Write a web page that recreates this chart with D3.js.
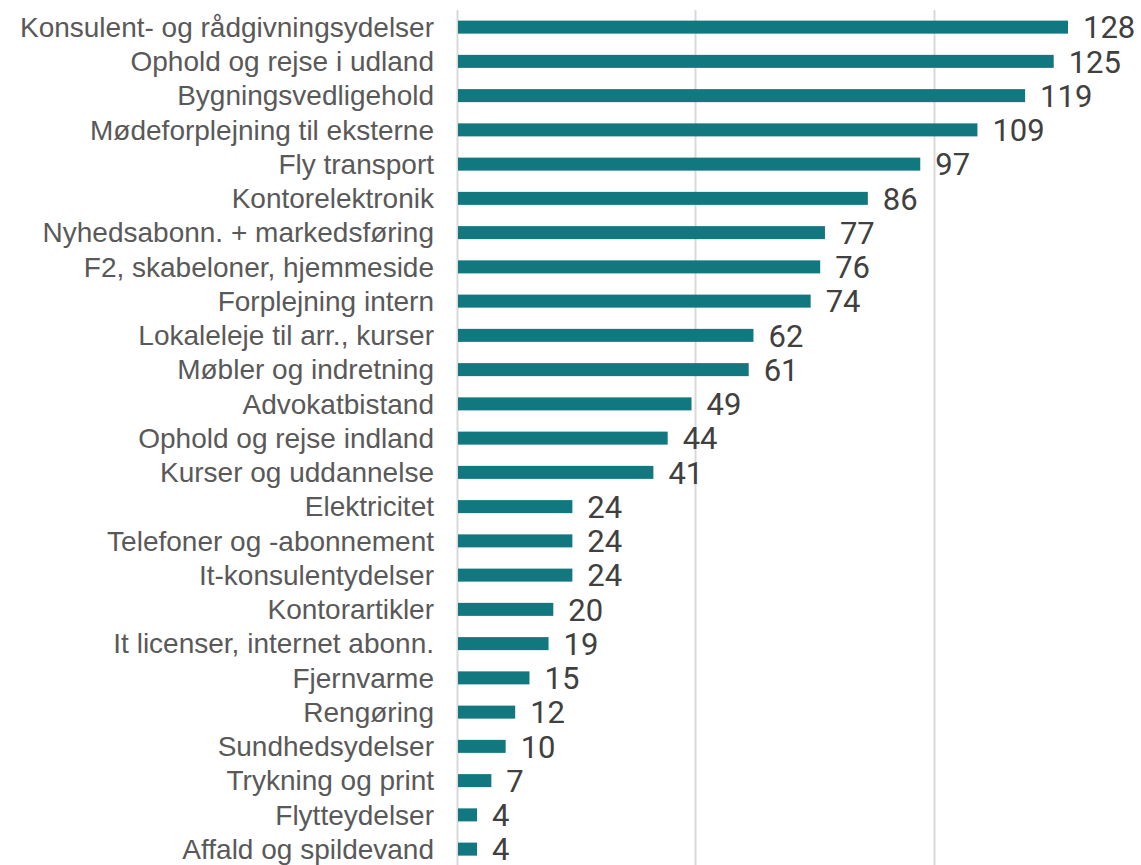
<!DOCTYPE html>
<html><head><meta charset="utf-8">
<script src="https://cdn.jsdelivr.net/npm/d3@7"></script>
<style>html,body{margin:0;padding:0;background:#fff;}</style>
</head><body>
<svg id="c" width="1141" height="865"></svg>
<script>
const categories = ["Konsulent- og rådgivningsydelser","Ophold og rejse i udland","Bygningsvedligehold","Mødeforplejning til eksterne","Fly transport","Kontorelektronik","Nyhedsabonn. + markedsføring","F2, skabeloner, hjemmeside","Forplejning intern","Lokaleleje til arr., kurser","Møbler og indretning","Advokatbistand","Ophold og rejse indland","Kurser og uddannelse","Elektricitet","Telefoner og -abonnement","It-konsulentydelser","Kontorartikler ","It licenser, internet abonn.","Fjernvarme","Rengøring","Sundhedsydelser","Trykning og print","Flytteydelser","Affald og spildevand"];
const values = [128,125,119,109,97,86,77,76,74,62,61,49,44,41,24,24,24,20,19,15,12,10,7,4,4];
const gridTicks = [0,50,100,150];

const svg = d3.select("#c");
const x = d3.scaleLinear().domain([0,150]).range([458, 458+150*4.7656]);
const y = d3.scaleBand().domain(categories).range([10, 10+categories.length*34.25]).paddingInner(0.62).paddingOuter(0.31);

svg.append("g").selectAll("line").data(gridTicks).join("line")
  .attr("x1", d=>Math.round(x(d))-0.5).attr("x2", d=>Math.round(x(d))-0.5)
  .attr("y1", 10).attr("y2", 865)
  .attr("stroke", "#d9d9d9").attr("stroke-width", 2);

svg.append("g").selectAll("rect").data(values).join("rect")
  .attr("x", x(0)).attr("y", (d,i)=>y(categories[i]))
  .attr("width", d=>x(d)-x(0)).attr("height", y.bandwidth())
  .attr("fill", "#127880");

svg.append("g").selectAll("text").data(categories).join("text")
  .attr("x", 434).attr("y", d=>y(d)+y.bandwidth()/2)
  .attr("dy", "0.35em").attr("text-anchor", "end")
  .attr("font-family", "Liberation Sans, Arial, sans-serif")
  .attr("font-size", 28).attr("fill", "#595959")
  .text(d=>d);

svg.append("g").selectAll("text").data(values).join("text")
  .attr("x", d=>x(d)+15).attr("y", (d,i)=>y(categories[i])+y.bandwidth()/2)
  .attr("dy", "0.36em")
  .attr("font-family", "Roboto, sans-serif")
  .attr("font-size", 31).attr("fill", "#404040")
  .text(d=>d);
</script>
</body></html>
